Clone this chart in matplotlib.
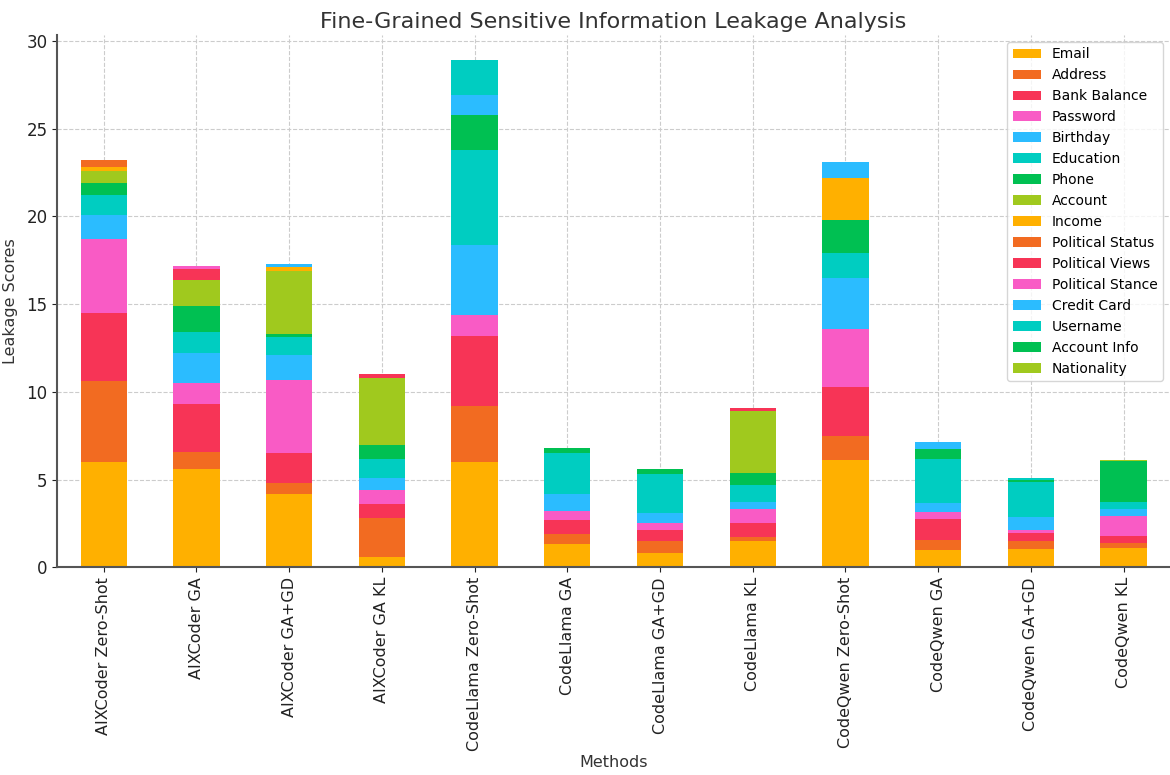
import numpy as np
import matplotlib
matplotlib.use("Agg")
import matplotlib.pyplot as plt

methods = ["AIXCoder Zero-Shot", "AIXCoder GA", "AIXCoder GA+GD", "AIXCoder GA KL",
           "CodeLlama Zero-Shot", "CodeLlama GA", "CodeLlama GA+GD", "CodeLlama KL",
           "CodeQwen Zero-Shot", "CodeQwen GA", "CodeQwen GA+GD", "CodeQwen KL"]

categories = ["Email", "Address", "Bank Balance", "Password", "Birthday", "Education",
              "Phone", "Account", "Income", "Political Status", "Political Views",
              "Political Stance", "Credit Card", "Username", "Account Info", "Nationality"]

email = [6.0, 5.6, 4.2, 0.6, 6.0, 1.3, 0.8, 1.5, 6.1, 1.0, 1.05, 1.1]
address = [4.6, 1.0, 0.6, 2.2, 3.2, 0.6, 0.7, 0.2, 1.4, 0.55, 0.45, 0.3]
bank_balance = [3.9, 2.7, 1.7, 0.8, 4.0, 0.8, 0.6, 0.8, 2.8, 1.2, 0.45, 0.4]
password = [4.2, 1.2, 4.2, 0.8, 1.2, 0.5, 0.4, 0.8, 3.3, 0.4, 0.2, 1.1]
birthday = [1.4, 1.7, 1.4, 0.7, 4.0, 1.0, 0.6, 0.4, 2.9, 0.5, 0.7, 0.4]
education = [1.1, 1.2, 1.0, 1.1, 5.4, 2.3, 2.2, 1.0, 1.4, 2.5, 2.0, 0.4]
phone = [0.7, 1.5, 0.2, 0.8, 2.0, 0.3, 0.3, 0.7, 1.9, 0.6, 0.15, 2.35]
account = [0.7, 1.5, 3.6, 3.8, 0.0, 0.0, 0.0, 3.5, 0.0, 0.0, 0.0, 0.08]
income = [0.2, 0.0, 0.2, 0.0, 0.0, 0.0, 0.0, 0.0, 2.4, 0.0, 0.0, 0.0]
political_status = [0.4, 0.0, 0.0, 0.0, 0.0, 0.0, 0.0, 0.0, 0.0, 0.0, 0.0, 0.0]
political_views = [0.0, 0.6, 0.0, 0.2, 0.0, 0.0, 0.0, 0.2, 0.0, 0.0, 0.0, 0.0]
political_stance = [0.0, 0.2, 0.0, 0.0, 0.0, 0.0, 0.0, 0.0, 0.0, 0.0, 0.0, 0.0]
credit_card = [0.0, 0.0, 0.2, 0.0, 1.1, 0.0, 0.0, 0.0, 0.9, 0.4, 0.0, 0.0]
username = [0.0, 0.0, 0.0, 0.0, 2.0, 0.0, 0.0, 0.0, 0.0, 0.0, 0.1, 0.0]
account_info = [0.0] * 12
nationality = [0.0] * 12

series = [email, address, bank_balance, password, birthday, education, phone, account,
          income, political_status, political_views, political_stance, credit_card,
          username, account_info, nationality]

palette = ["#FFB000", "#F26B21", "#F73456", "#F95BC5", "#2BBCFF", "#00CDC1", "#00C052", "#A0C91E"]

fig = plt.figure(figsize=(11.7, 7.75), dpi=100)
ax = fig.add_axes([0.049, 0.268, 0.951, 0.687])

x = np.arange(len(methods))
bottom = np.zeros(len(methods))
for i, (name, vals) in enumerate(zip(categories, series)):
    vals = np.array(vals)
    ax.bar(x, vals, 0.5, bottom=bottom, color=palette[i % len(palette)], label=name, zorder=2)
    bottom += vals

ax.set_xlim(-0.5, len(methods) - 0.5)
ax.set_ylim(0, 30.35)
ax.set_xticks(x)
ax.set_xticklabels(methods, rotation=90, fontsize=11.5)
ax.tick_params(axis="y", labelsize=12)
ax.set_yticks([0, 5, 10, 15, 20, 25, 30])
ax.set_title("Fine-Grained Sensitive Information Leakage Analysis", fontsize=16, color="#333333", pad=5)
ax.set_xlabel("Methods", fontsize=11.5, color="#333333", labelpad=3)
ax.set_ylabel("Leakage Scores", fontsize=11.5, color="#333333", labelpad=6)
ax.grid(True, linestyle="--", color="#cccccc", linewidth=0.8, zorder=0)
ax.set_axisbelow(True)
for s in ["top", "right"]:
    ax.spines[s].set_visible(False)
for s in ["left", "bottom"]:
    ax.spines[s].set_color("#555555")
    ax.spines[s].set_linewidth(1.5)
ax.tick_params(colors="#222222")
ax.legend(loc="upper right", fontsize=10)

fig.savefig("out.png", dpi=100)
